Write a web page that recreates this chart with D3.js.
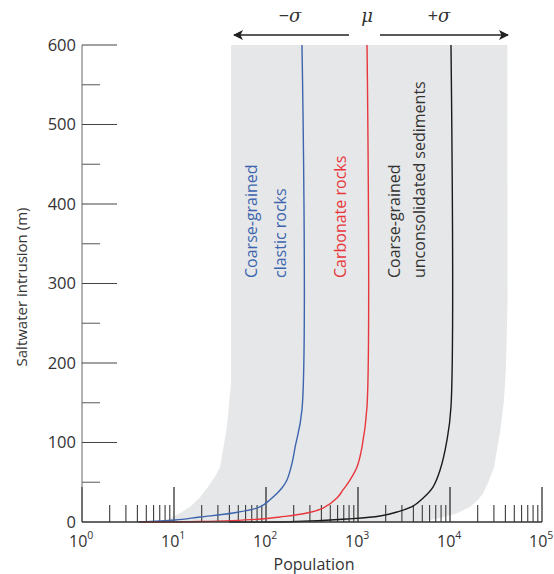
<!DOCTYPE html>
<html>
<head>
<meta charset="utf-8">
<script src="https://cdn.jsdelivr.net/npm/d3@7"></script>
<style>
  body { margin: 0; background: #fff; }
  text { font-family: "Open Sans", "Noto Sans", sans-serif; fill: #333; }
</style>
</head>
<body>
<svg width="554" height="574"></svg>
<script>
// population (x) and saltwater intrusion depth in m (y)
var clasticPop   = [4.1, 10.3, 19.2, 43.8, 86, 110, 149, 169, 192, 207, 246, 246];
var clasticDepth = [0, 2.5, 6.3, 11.3, 18.9, 27.7, 42.8, 52.8, 74, 94, 141, 600];

var carbonatePop   = [4.3, 19.2, 90, 142, 279, 417, 591, 687, 818, 975, 1105, 1253, 1253];
var carbonateDepth = [0, 0.6, 3.8, 6.3, 11.3, 17.6, 30.2, 40.3, 52.8, 69.2, 94.3, 145, 600];

var sedimentPop   = [40, 182, 759, 1734, 2655, 3962, 5090, 6535, 7786, 9270, 10250, 10250];
var sedimentDepth = [0, 0.3, 3.8, 7.5, 12.6, 20, 30, 44, 65, 103, 145, 600];

// grey +/- sigma envelope
var bandLeftPop    = [7.0, 8.4, 11.6, 14.9, 19.2, 23.4, 27.9, 31.6, 34.1, 36.7, 38.6, 39.9, 41.7, 41.7];
var bandLeftDepth  = [0, 2.5, 11, 19, 31, 44, 57, 69, 91, 112, 132, 153, 175, 600];
var bandRightPop   = [42000, 42200, 40600, 38600, 34900, 32400, 30100, 25900, 22800, 20200, 16500, 11900, 7790, 4720];
var bandRightDepth = [600, 279, 195, 153, 112, 91, 69, 49, 36, 28, 19, 11, 5, 0];

var yTicks = [0, 100, 200, 300, 400, 500, 600];
var yMinor = [50, 150, 250, 350, 450, 550];
var decades = [0, 1, 2, 3, 4, 5];

var svg = d3.select("svg");

var x = d3.scaleLog().domain([1, 1e5]).range([82, 542]);
var y = d3.scaleLinear().domain([0, 600]).range([522, 45]);

function pts(px, py) {
  return px.map(function(p, i) { return [x(p), y(py[i])]; });
}

// band
var band = pts(bandLeftPop, bandLeftDepth).concat(pts(bandRightPop, bandRightDepth));
svg.append("path")
  .attr("d", d3.line().curve(d3.curveLinearClosed)(band))
  .attr("fill", "#e6e7e8");

// x axis ticks (pointing up)
var minor = [];
decades.slice(0, 5).forEach(function(d) {
  for (var k = 2; k <= 9; k++) minor.push(k * Math.pow(10, d));
});
svg.selectAll(".xminor").data(minor).enter().append("line")
  .attr("x1", function(d) { return x(d); }).attr("x2", function(d) { return x(d); })
  .attr("y1", 522).attr("y2", 505)
  .attr("stroke", "#3a3a3a").attr("stroke-width", 1.1);
svg.selectAll(".xmajor").data(decades).enter().append("line")
  .attr("x1", function(d) { return x(Math.pow(10, d)); }).attr("x2", function(d) { return x(Math.pow(10, d)); })
  .attr("y1", 522).attr("y2", 487)
  .attr("stroke", "#222").attr("stroke-width", 1.2);

// y axis
svg.append("line").attr("x1", 82).attr("x2", 82).attr("y1", y(0)).attr("y2", y(600))
  .attr("stroke", "#666").attr("stroke-width", 1);
svg.selectAll(".ymajor").data(yTicks.slice(1)).enter().append("line")
  .attr("x1", 82).attr("x2", 117)
  .attr("y1", function(d) { return y(d); }).attr("y2", function(d) { return y(d); })
  .attr("stroke", "#444").attr("stroke-width", 1.1);
svg.selectAll(".yminor").data(yMinor).enter().append("line")
  .attr("x1", 82).attr("x2", 100)
  .attr("y1", function(d) { return y(d); }).attr("y2", function(d) { return y(d); })
  .attr("stroke", "#666").attr("stroke-width", 1.1);
svg.selectAll(".ylab").data(yTicks).enter().append("text")
  .attr("x", 76).attr("y", function(d) { return y(d); }).attr("dy", "0.34em")
  .attr("text-anchor", "end").style("font-size", "16.5px")
  .text(function(d) { return d; });

// curves
var line = d3.line().curve(d3.curveCatmullRom.alpha(0.5));
[[clasticPop, clasticDepth, "#3c65ae"],
 [carbonatePop, carbonateDepth, "#e8363c"],
 [sedimentPop, sedimentDepth, "#1a1a1a"]].forEach(function(s) {
  svg.append("path")
    .attr("d", line(pts(s[0], s[1])))
    .attr("fill", "none").attr("stroke", s[2]).attr("stroke-width", 1.4);
});

// x axis line
svg.append("line").attr("x1", 82).attr("x2", 542).attr("y1", 522).attr("y2", 522)
  .attr("stroke", "#333").attr("stroke-width", 1.5);

var xl = svg.selectAll(".xlab").data(decades).enter().append("text")
  .attr("x", function(d) { return x(Math.pow(10, d)) - 13; }).attr("y", 547)
  .attr("text-anchor", "start").style("font-size", "16px");
xl.append("tspan").text("10");
xl.append("tspan").attr("dy", -8).style("font-size", "10.5px").text(function(d) { return d; });

// axis titles
svg.append("text").attr("x", 314).attr("y", 570).attr("text-anchor", "middle")
  .style("font-size", "16px").text("Population");
svg.append("text").attr("transform", "translate(27,287) rotate(-90)")
  .attr("text-anchor", "middle").style("font-size", "15px").text("Saltwater intrusion (m)");

// series labels
var labels = [
  [251, "Coarse-grained", "#3c65ae"], [280, "clastic rocks", "#3c65ae"],
  [340, "Carbonate rocks", "#e8363c"],
  [394, "Coarse-grained", "#333"], [419, "unconsolidated sediments", "#333"]
];
labels.forEach(function(l) {
  svg.append("text").attr("transform", "translate(" + l[0] + ",278) rotate(-90)")
    .attr("dy", "0.36em").style("font-size", "16px").style("fill", l[2]).text(l[1]);
});

// sigma arrows
svg.append("defs").append("marker").attr("id", "ah")
  .attr("viewBox", "0 0 10 10").attr("refX", 9).attr("refY", 5)
  .attr("markerWidth", 10).attr("markerHeight", 10).attr("markerUnits", "userSpaceOnUse")
  .attr("orient", "auto")
  .append("path").attr("d", "M0,0 L10,5 L0,10 L2.5,5 Z").attr("fill", "#222");
svg.append("line").attr("x1", 349).attr("x2", 234).attr("y1", 35).attr("y2", 35)
  .attr("stroke", "#222").attr("stroke-width", 1.3).attr("marker-end", "url(#ah)");
svg.append("line").attr("x1", 380).attr("x2", 508).attr("y1", 35).attr("y2", 35)
  .attr("stroke", "#222").attr("stroke-width", 1.3).attr("marker-end", "url(#ah)");

svg.append("text").attr("x", 290).attr("y", 22).attr("text-anchor", "middle")
  .style("font-size", "18px").html("\u2212<tspan font-style='italic' font-family='DejaVu Serif'>\u03c3</tspan>");
svg.append("text").attr("x", 367).attr("y", 22).attr("text-anchor", "middle")
  .style("font-size", "18px").style("font-style", "italic").style("font-family", "DejaVu Serif").text("\u03bc");
svg.append("text").attr("x", 439).attr("y", 22).attr("text-anchor", "middle")
  .style("font-size", "18px").html("+<tspan font-style='italic' font-family='DejaVu Serif'>\u03c3</tspan>");
</script>
</body>
</html>
